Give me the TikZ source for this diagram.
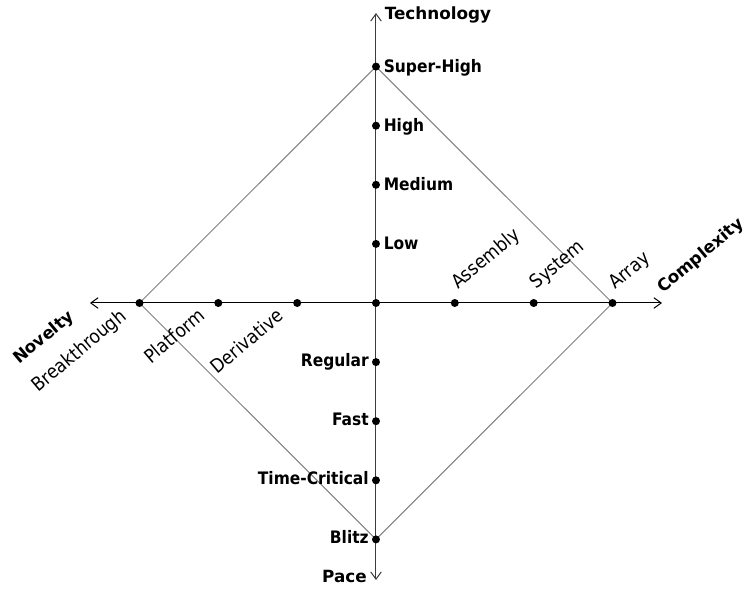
\documentclass[tikz,border=0pt]{standalone}
\usepackage{fontspec}
\setmainfont{DejaVu Sans Condensed}
\newfontfamily\titlefont{DejaVu Sans}
\usetikzlibrary{arrows.meta,calc,positioning,backgrounds}
\definecolor{diamondgray}{RGB}{128,128,128}
\definecolor{axisgray}{RGB}{60,60,60}

\begin{document}
\begin{tikzpicture}[x=0.75pt,y=0.75pt,>={Straight Barb[length=5.5pt,width=8pt]}]
        \tikzstyle{point}=[circle,fill,inner sep=0pt, minimum width=6pt, minimum height=6pt]
        \tikzstyle{axistitle}=[font=\titlefont\fontsize{12.6}{15}\selectfont\bfseries, inner sep=0pt]
        \tikzstyle{axislbl}=[font=\fontsize{12.9}{15}\selectfont\bfseries, inner sep=0pt]
        \tikzstyle{ticklbl}=[font=\fontsize{14.2}{16}\selectfont, inner sep=0pt, rotate=40]
        \useasboundingbox (-376,-289) rectangle (371,303);

        % Axis ends
        \coordinate (tech) at (0,290);
        \coordinate (pace) at (0,-277);
        \coordinate (nov) at (-286,0);
        \coordinate (comp) at (286,0);

        % Origin
        \node[point] (o) at (0,0) {};

        % Technology points
        \node[point] (tL) at (0,59.1) {};
        \node[point] (tM) at (0,118.2) {};
        \node[point] (tH) at (0,177.3) {};
        \node[point] (tSH) at (0,236.4) {};

        % Pace points
        \node[point] (pR) at (0,-59.1) {};
        \node[point] (pF) at (0,-118.2) {};
        \node[point] (pTC) at (0,-177.3) {};
        \node[point] (pB) at (0,-236.4) {};

        % Novelty points
        \node[point] (nD) at (-78.8,0) {};
        \node[point] (nP) at (-157.7,0) {};
        \node[point] (nB) at (-236.5,0) {};

        % Complexity points
        \node[point] (cA) at (78.8,0) {};
        \node[point] (cS) at (157.7,0) {};
        \node[point] (cAr) at (236.5,0) {};

        \begin{pgfonlayer}{background}
            % Draw the diamond
            \draw[diamondgray, line width=0.75pt] (tSH.center) -- (cAr.center) -- (pB.center) -- (nB.center) -- cycle;
            % Axes
            \draw[<->, line width=0.75pt] (nov) -- (comp);
            \draw[<->, axisgray, line width=0.75pt] (pace) -- (tech);
        \end{pgfonlayer}

        % Axis labels
        \node[axistitle, anchor=base east] (pacelbl) at ($(pace)+(-9,-3)$) {Pace};
        \node[axistitle, anchor=base west] (techlbl) at ($(tech)+(8.5,-7)$) {Technology};
        \node[axistitle, anchor=base east, rotate=40] (novlbl) at ($(nov)+(-15,-15)$) {Novelty};
        \node[axistitle, anchor=base west, rotate=40] (complbl) at ($(comp)+(1,9)$) {Complexity};

        % Technology labels
        \node[axislbl, anchor=base west] (tSHlbl) at ($(tSH)+(7.5,-6)$) {Super-High};
        \node[axislbl, anchor=base west] (tHlbl) at ($(tH)+(7.5,-6)$) {High};
        \node[axislbl, anchor=base west] (tMlbl) at ($(tM)+(7.5,-6)$) {Medium};
        \node[axislbl, anchor=base west] (tLlbl) at ($(tL)+(7.5,-6)$) {Low};

        % Pace labels
        \node[axislbl, anchor=base east] (pRlbl) at ($(pR)+(-7,-4.5)$) {Regular};
        \node[axislbl, anchor=base east] (pFlbl) at ($(pF)+(-7,-4.5)$) {Fast};
        \node[axislbl, anchor=base east] (pTClbl) at ($(pTC)+(-7,-4.5)$) {Time-Critical};
        \node[axislbl, anchor=base east] (pBlbl) at ($(pB)+(-7,-4.5)$) {Blitz};

        % Novelty labels
        \node[ticklbl, anchor=base east] (nBlbl) at ($(nB)+(-12,-15)$) {Breakthrough};
        \node[ticklbl, anchor=base east] (nPlbl) at ($(nP)+(-12,-15)$) {Platform};
        \node[ticklbl, anchor=base east] (nDlbl) at ($(nD)+(-12,-15)$) {Derivative};

        % Complexity labels
        \node[ticklbl, anchor=base west] (cAlbl) at ($(cA)+(3,13)$) {Assembly};
        \node[ticklbl, anchor=base west] (cSlbl) at ($(cS)+(3,13)$) {System};
        \node[ticklbl, anchor=base west] (cArlbl) at ($(cAr)+(3,13)$) {Array};
    \end{tikzpicture}
\end{document}
